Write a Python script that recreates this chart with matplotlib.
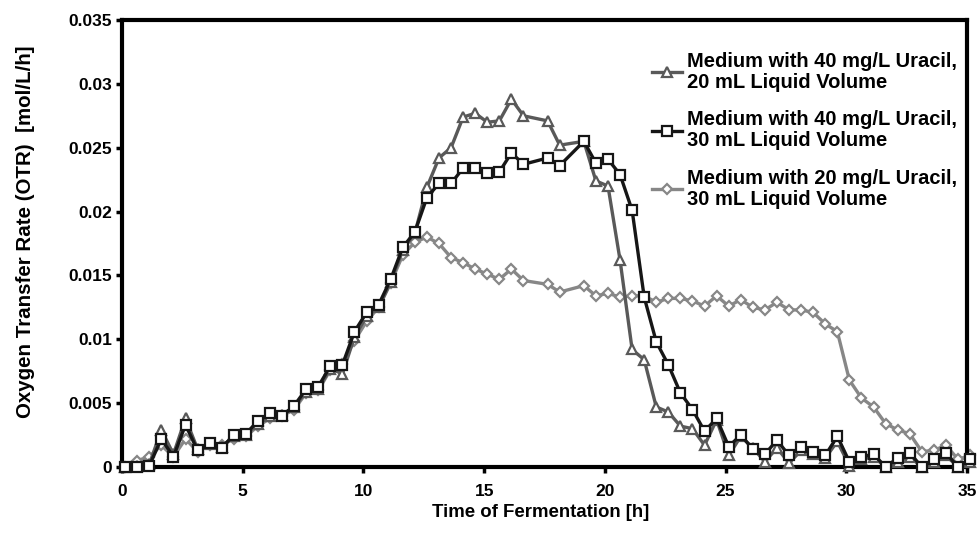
import matplotlib
matplotlib.use("Agg")
import matplotlib.pyplot as plt
from matplotlib.ticker import FixedLocator

# ---- data ----
time_h = [0.13, 0.63, 1.13, 1.63, 2.13, 2.63, 3.13, 3.63, 4.13, 4.63,
          5.13, 5.63, 6.13, 6.63, 7.13, 7.63, 8.13, 8.63, 9.13, 9.63,
          10.13, 10.63, 11.13, 11.63, 12.13, 12.63, 13.13, 13.63, 14.13, 14.63,
          15.13, 15.63, 16.13, 16.63, 17.63, 18.13, 19.13, 19.63, 20.13, 20.63,
          21.13, 21.63, 22.13, 22.63, 23.13, 23.63, 24.13, 24.63, 25.13, 25.63,
          26.13, 26.63, 27.13, 27.63, 28.13, 28.63, 29.13, 29.63, 30.13, 30.63,
          31.13, 31.63, 32.13, 32.63, 33.13, 33.63, 34.13, 34.63, 35.13]

otr_40mg_20ml = [0.0000, 0.0001, 0.0002, 0.0029, 0.0010, 0.0038, 0.0014, 0.0018, 0.0016, 0.0024,
                 0.0025, 0.0034, 0.0040, 0.0041, 0.0047, 0.0059, 0.0061, 0.0077, 0.0073, 0.0102,
                 0.0118, 0.0125, 0.0145, 0.0170, 0.0183, 0.0219, 0.0242, 0.0250, 0.0274, 0.0277,
                 0.0270, 0.0271, 0.0288, 0.0275, 0.0271, 0.0252, 0.0255, 0.0224, 0.0220, 0.0162,
                 0.0092, 0.0084, 0.0047, 0.0043, 0.0032, 0.0030, 0.0017, 0.0037, 0.0009, 0.0024,
                 0.0015, 0.0004, 0.0015, 0.0003, 0.0013, 0.0010, 0.0007, 0.0020, 0.0001, 0.0006,
                 0.0008, 0.0000, 0.0004, 0.0008, 0.0000, 0.0004, 0.0009, 0.0000, 0.0004]

otr_40mg_30ml = [0.0000, 0.0000, 0.0001, 0.0022, 0.0008, 0.0033, 0.0013, 0.0019, 0.0015, 0.0025,
                 0.0026, 0.0036, 0.0042, 0.0040, 0.0048, 0.0061, 0.0063, 0.0079, 0.0080, 0.0106,
                 0.0121, 0.0127, 0.0147, 0.0172, 0.0184, 0.0211, 0.0222, 0.0222, 0.0234, 0.0234,
                 0.0230, 0.0231, 0.0246, 0.0237, 0.0242, 0.0236, 0.0255, 0.0238, 0.0241, 0.0229,
                 0.0201, 0.0133, 0.0098, 0.0080, 0.0058, 0.0045, 0.0028, 0.0038, 0.0016, 0.0025,
                 0.0014, 0.0010, 0.0021, 0.0009, 0.0016, 0.0012, 0.0009, 0.0024, 0.0004, 0.0008,
                 0.0010, 0.0000, 0.0007, 0.0011, 0.0000, 0.0006, 0.0011, 0.0000, 0.0006]

otr_20mg_30ml = [0.0000, 0.0005, 0.0008, 0.0017, 0.0008, 0.0022, 0.0012, 0.0017, 0.0017, 0.0022,
                 0.0024, 0.0032, 0.0038, 0.0040, 0.0045, 0.0058, 0.0060, 0.0076, 0.0081, 0.0099,
                 0.0114, 0.0125, 0.0144, 0.0166, 0.0176, 0.0180, 0.0175, 0.0164, 0.0160, 0.0155,
                 0.0151, 0.0147, 0.0155, 0.0146, 0.0143, 0.0137, 0.0142, 0.0134, 0.0136, 0.0133,
                 0.0134, 0.0134, 0.0129, 0.0132, 0.0132, 0.0130, 0.0126, 0.0134, 0.0126, 0.0131,
                 0.0125, 0.0123, 0.0129, 0.0123, 0.0123, 0.0121, 0.0112, 0.0106, 0.0068, 0.0054,
                 0.0047, 0.0034, 0.0029, 0.0026, 0.0012, 0.0013, 0.0017, 0.0006, 0.0009]

labels = ["Medium with 40 mg/L Uracil,\n20 mL Liquid Volume",
          "Medium with 40 mg/L Uracil,\n30 mL Liquid Volume",
          "Medium with 20 mg/L Uracil,\n30 mL Liquid Volume"]
x_ticks = [0, 5, 10, 15, 20, 25, 30, 35]
y_ticks = [0, 0.005, 0.01, 0.015, 0.02, 0.025, 0.03, 0.035]
y_tick_labels = ["0", "0.005", "0.01", "0.015", "0.02", "0.025", "0.03", "0.035"]

plt.rcParams['font.family'] = ['Liberation Sans', 'DejaVu Sans']
plt.rcParams['font.weight'] = 'bold'

fig = plt.figure(figsize=(9.8, 5.47), dpi=100)
ax = fig.add_axes([0.1245, 0.1463, 0.8622, 0.8171])

common = dict(linewidth=2.4, markersize=6.5, markerfacecolor='white',
              markeredgewidth=1.6, clip_on=False)
ax.plot(time_h, otr_40mg_20ml, color='#595959', marker='^', label=labels[0],
        markeredgecolor='#595959', zorder=3, **common)
ax.plot(time_h, otr_40mg_30ml, color='#161616', marker='s', label=labels[1],
        markeredgecolor='#161616', zorder=4, **common)
ax.plot(time_h, otr_20mg_30ml, color='#878787', marker='D', label=labels[2],
        markeredgecolor='#878787', zorder=2, linewidth=2.4, markersize=5,
        markerfacecolor='white', markeredgewidth=1.6, clip_on=False)

ax.set_xlim(0, 35)
ax.set_ylim(0, 0.035)
ax.xaxis.set_major_locator(FixedLocator(x_ticks))
ax.yaxis.set_major_locator(FixedLocator(y_ticks))
ax.set_yticklabels(y_tick_labels)
ax.set_xticklabels([str(v) for v in x_ticks])

for s in ax.spines.values():
    s.set_linewidth(3)
    s.set_color('black')
ax.tick_params(axis='both', direction='out', length=4, width=2.5,
               labelsize=12.5, pad=3)
ax.tick_params(axis='x', pad=8)
for lbl in ax.get_xticklabels() + ax.get_yticklabels():
    lbl.set_fontweight('bold')

ax.set_xlabel("Time of Fermentation [h]", fontsize=13.4, fontweight='bold')
ax.set_ylabel("Oxygen Transfer Rate (OTR)  [mol/L/h]", fontsize=14.8,
              fontweight='bold')
ax.xaxis.set_label_coords(0.495, -0.082)
ax.yaxis.set_label_coords(-0.103, 0.526)

leg = ax.legend(loc='upper right', bbox_to_anchor=(1.008, 0.965), frameon=False,
                prop={'size': 14.5, 'weight': 'bold'}, handlelength=1.5,
                handletextpad=0.25, labelspacing=0.9, borderpad=0.3)
for t in leg.get_texts():
    t.set_linespacing(1.15)

fig.savefig("out.png", dpi=100)
